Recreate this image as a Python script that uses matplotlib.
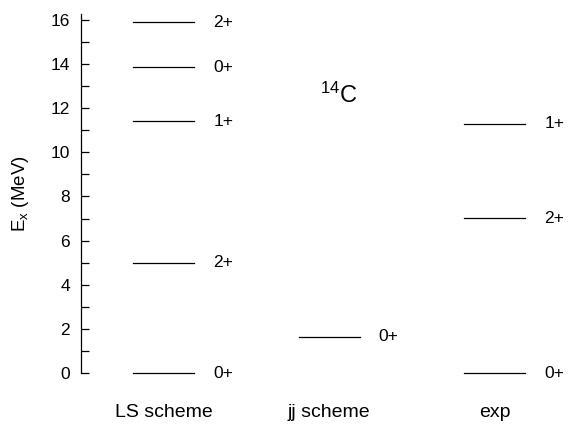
import matplotlib
matplotlib.use("Agg")
import matplotlib.pyplot as plt
from matplotlib.ticker import MultipleLocator

plt.rcParams["font.family"] = ["Liberation Sans", "DejaVu Sans"]
plt.rcParams["mathtext.fontset"] = "custom"
plt.rcParams["mathtext.rm"] = "Liberation Sans"
plt.rcParams["mathtext.default"] = "regular"

# level scheme data (MeV)
schemes = ["LS scheme", "jj scheme", "exp"]
ls_energies = [0.0, 5.0, 11.4, 13.85, 15.9]
ls_spins = ["0+", "2+", "1+", "0+", "2+"]
jj_energies = [1.65]
jj_spins = ["0+"]
exp_energies = [0.0, 7.01, 11.3]
exp_spins = ["0+", "2+", "1+"]

levels = [
    (ls_energies, ls_spins),
    (jj_energies, jj_spins),
    (exp_energies, exp_spins),
]

fig = plt.figure(figsize=(5.69, 4.28), dpi=100)
ax = fig.add_axes([81 / 569, 1 - 373 / 428, 488 / 569, 359 / 428])

half = 0.185
for i, (energies, spins) in enumerate(levels):
    xc = i + 1
    for e, s in zip(energies, spins):
        ax.plot([xc - half, xc + half], [e, e], color="black", lw=0.9,
                clip_on=False)
        ax.text(xc + half + 0.115, e, s, fontsize=12.5, va="center", ha="left")

ax.text(2.06, 12.6, "$^{14}$C", fontsize=17, ha="center", va="center")

ax.set_xlim(0.5, 3.45)
ax.set_ylim(0, 16.27)
ax.set_xticks([1, 2, 3])
ax.set_xticklabels(schemes, fontsize=14)
ax.tick_params(axis="x", length=0, pad=22)
ax.yaxis.set_major_locator(MultipleLocator(2))
ax.yaxis.set_minor_locator(MultipleLocator(1))
ax.tick_params(axis="y", which="both", direction="in", length=6, width=0.9,
               labelsize=12.5, pad=8)
ax.set_ylabel("E$_x$ (MeV)", fontsize=13.5, labelpad=14)

for side in ["top", "right", "bottom"]:
    ax.spines[side].set_visible(False)
ax.spines["left"].set_linewidth(0.9)

fig.savefig("out.png", dpi=100)
